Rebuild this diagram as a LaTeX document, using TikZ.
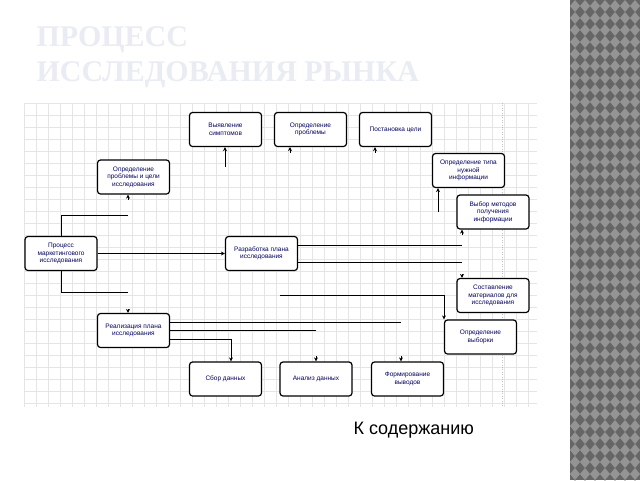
\documentclass[tikz,border=0pt]{standalone}
\usepackage{fontspec}
\setmainfont{Liberation Sans}
\newfontfamily\ttl{Liberation Serif}
\usetikzlibrary{arrows.meta}
\definecolor{ttlc}{RGB}{234,236,244}
\begin{document}
\begin{tikzpicture}[x=1pt,y=-1pt,
  box/.style={draw,line width=1.2pt,rounded corners=3pt,minimum width=72pt,minimum height=34pt,align=center,font=\fontsize{6.5}{7.5}\selectfont,text=blue!40!black,inner sep=1pt,fill=white},
  ln/.style={line width=0.8pt},
  tip/.style={-{Stealth[length=4pt,width=4pt]},line width=0.8pt}]
\useasboundingbox (0,0) rectangle (640,480);
\fill[white] (0,0) rectangle (640,480);
% right strip
\fill[black!60] (570,0) rectangle (640,480);
\foreach \i in {0,...,6}{\foreach \j in {0,...,40}{
  \fill[black!42] ({575+\i*10},{\j*12}) -- ++(5,6) -- ++(-5,6) -- ++(-5,-6) -- cycle;}}
% title
\node[anchor=west,font=\ttl\bfseries\fontsize{30}{30}\selectfont,text=ttlc] (t1) at (33,40) {ПРОЦЕСС};
\node[anchor=west,font=\ttl\bfseries\fontsize{30}{30}\selectfont,text=ttlc] (t2) at (33,75) {ИССЛЕДОВАНИЯ РЫНКА};
% grid
\foreach \gx in {24,36,...,536} \draw[black!10,line width=0.3pt] (\gx,103) -- (\gx,407);
\foreach \gy in {103,115,...,403} \draw[black!10,line width=0.3pt] (24,\gy) -- (537,\gy);
\draw[black!25,dotted] (502,103) -- (502,407);
% nodes
\node[box] (vs) at (225.5,129.5) {Выявление\\симптомов};
\node[box] (op) at (310.5,129.5) {Определение\\проблемы};
\node[box] (pc) at (395.5,129.5) {Постановка цели};
\node[box] (opc) at (133.5,177) {Определение\\проблемы и цели\\исследования};
\node[box] (ot) at (468.5,170.5) {Определение типа\\нужной\\информации};
\node[box] (vm) at (493,212) {Выбор методов\\получения\\информации};
\node[box] (pr) at (61,253.5) {Процесс\\маркетингового\\исследования};
\node[box] (rp) at (261.5,253.5) {Разработка плана\\исследования};
\node[box] (sm) at (493,295.5) {Составление\\материалов для\\исследования};
\node[box] (vy) at (480.5,337) {Определение\\выборки};
\node[box] (rl) at (133.5,330.5) {Реализация плана\\исследования};
\node[box] (sd) at (225.5,379) {Сбор данных};
\node[box] (ad) at (316,379) {Анализ данных};
\node[box] (fv) at (407.5,379) {Формирование\\выводов};
% connectors
\coordinate (a1) at (61,215); \coordinate (a2) at (128,215);
\draw[ln] (pr.north -| a1) -- (a1) -- (a2);
\draw[tip] (128,200) -- (opc.south -| 128,0);
\coordinate (b1) at (61,292); \coordinate (b2) at (128,292);
\draw[ln] (pr.south -| b1) -- (b1) -- (b2);
\draw[tip] (128,309) -- (rl.north -| 128,0);
\draw[tip] (pr) -- (rp);
\draw[tip] (225,167) -- (vs.south -| 225,0);
\draw[tip] (290,153) -- (op.south -| 290,0);
\draw[tip] (375,153) -- (pc.south -| 375,0);
\coordinate (c1) at (462,245); \coordinate (c2) at (462,262);
\draw[ln] (rp.east |- c1) -- (c1);
\draw[ln] (rp.east |- c2) -- (c2);
\draw[tip] (438,212) -- (ot.south -| 438,0);
\draw[tip] (462,235) -- (vm.south -| 462,0);
\draw[tip] (462,274) -- (sm.north -| 462,0);
\coordinate (d1) at (280,295); \coordinate (d2) at (444,295);
\draw[tip] (d1) -- (d2) -- (vy.north -| d2);
\coordinate (e1) at (401,322); \coordinate (e2) at (316,330); \coordinate (e3) at (231,339);
\draw[ln] (rl.east |- e1) -- (e1);
\draw[ln] (rl.east |- e2) -- (e2);
\draw[tip] (rl.east |- e3) -- (e3) -- (sd.north -| e3);
\draw[tip] (316,356) -- (ad.north -| 316,0);
\draw[tip] (401,356) -- (fv.north -| 401,0);
\node[font=\fontsize{18}{18}\selectfont,anchor=west] (k) at (350,430) {К содержанию};
\end{tikzpicture}
\end{document}
